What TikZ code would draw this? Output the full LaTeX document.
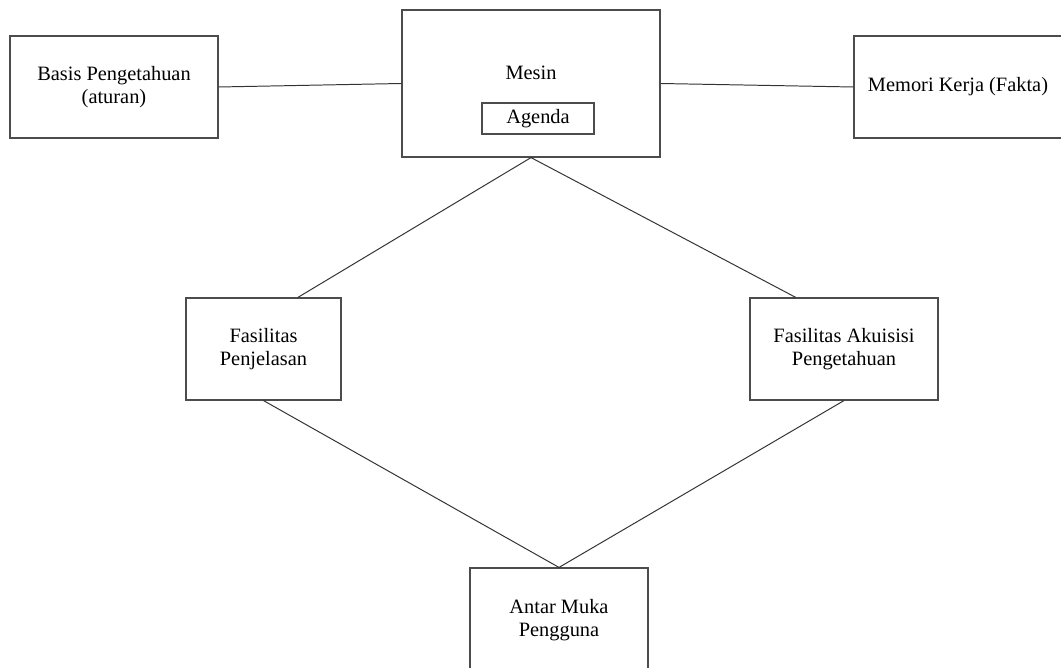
\documentclass[tikz,border=0pt]{standalone}
\usepackage{fontspec}
\setmainfont{Liberation Serif}
\usetikzlibrary{calc}

\begin{document}
\begin{tikzpicture}[
x=0.025cm, y=-0.025cm,
box/.style={draw=black!70, line width=0.8pt, align=center, inner sep=0pt, font=\fontsize{14.5}{16.5}\selectfont},
link/.style={draw=black!80, line width=0.7pt}
]
\useasboundingbox (0,0) rectangle (1061,668);
\clip (0,0) rectangle (1061,668);
% top row
\node[box, minimum width=5.2cm, minimum height=2.55cm] (basis) at (114,87) {Basis Pengetahuan\\(aturan)};
\node[box, minimum width=6.45cm, minimum height=3.675cm] (mesin) at (531,83.5) {};
\node[font=\fontsize{14.5}{16.5}\selectfont] (mesinlbl) at (531,73) {Mesin};
\node[box, minimum width=2.8cm, minimum height=0.775cm] (agenda) at (538,118.5) {Agenda};
\node[box, minimum width=5.2cm, minimum height=2.55cm] (memori) at (958,87) {Memori Kerja (Fakta)};
% middle row
\node[box, minimum width=3.875cm, minimum height=2.55cm] (penjelasan) at (263.5,349) {Fasilitas\\Penjelasan};
\node[box, minimum width=4.7cm, minimum height=2.55cm] (akuisisi) at (844,349) {Fasilitas Akuisisi\\Pengetahuan};
% bottom
\node[box, minimum width=4.45cm, minimum height=2.6cm] (antarmuka) at (559,620) {Antar Muka\\Pengguna};
% connectors
\draw[link] (basis.east) -- (mesin.west);
\draw[link] (mesin.east) -- (memori.west);
\draw[link] (mesin.south) -- ($(penjelasan.north west)!0.72!(penjelasan.north east)$);
\draw[link] (mesin.south) -- ($(akuisisi.north west)!0.245!(akuisisi.north east)$);
\draw[link] (penjelasan.south) -- (antarmuka.north);
\draw[link] (akuisisi.south) -- (antarmuka.north);
\end{tikzpicture}
\end{document}
